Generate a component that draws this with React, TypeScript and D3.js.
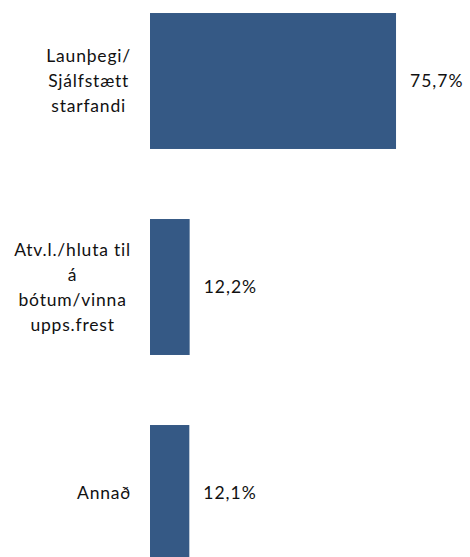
import React, { useEffect, useRef } from 'react';
import * as d3 from 'd3';

// categories, one line per wrapped row of the label
const categories = [
  'Launþegi/\nSjálfstætt\nstarfandi',
  'Atv.l./hluta til\ná\nbótum/vinna\nupps.frest',
  'Annað',
];
const values = [75.7, 12.2, 12.1];
const xDomain = [0, 100];

const width = 470;
const height = 557;
const barColor = '#355985';
const font = 'Lato, "Open Sans", sans-serif';

const App = () => {
  const svgRef = useRef<SVGSVGElement>(null);

  useEffect(() => {
    const svg = d3.select(svgRef.current);
    svg.selectAll('*').remove();

    const x = d3.scaleLinear().domain(xDomain).range([150, 475]);
    const y = d3
      .scaleBand<string>()
      .domain(categories)
      .range([-22, 596])
      .paddingInner(0.34)
      .paddingOuter(0.17);

    const data = categories.map((c, i) => ({ cat: c, value: values[i] }));

    svg
      .selectAll('.bar')
      .data(data)
      .join('rect')
      .attr('class', 'bar')
      .attr('x', x(0))
      .attr('y', (d) => y(d.cat)!)
      .attr('width', (d) => x(d.value) - x(0))
      .attr('height', y.bandwidth())
      .attr('fill', barColor);

    // value labels
    svg
      .selectAll('.val')
      .data(data)
      .join('text')
      .attr('class', 'val')
      .attr('x', (d) => x(d.value) + 14)
      .attr('y', (d) => y(d.cat)! + y.bandwidth() / 2)
      .attr('dy', '0.35em')
      .style('font-family', font)
      .style('font-size', '17.5px')
      .style('letter-spacing', '1px')
      .attr('fill', '#111')
      .text((d) => d.value.toFixed(1).replace('.', ',') + '%');

    // category labels, block right-aligned to the axis, lines centred
    const lineH = 25;
    data.forEach((d) => {
      const lines = d.cat.split('\n');
      const g = svg.append('g');
      const cy = y(d.cat)! + y.bandwidth() / 2;
      const texts = g
        .selectAll('text')
        .data(lines)
        .join('text')
        .attr('y', (_, i) => cy + (i - (lines.length - 1) / 2) * lineH)
        .attr('dy', '0.35em')
        .attr('text-anchor', 'middle')
        .style('font-family', font)
        .style('font-size', '17.5px')
        .style('letter-spacing', '0.8px')
        .attr('fill', '#111')
        .text((l) => l);
      let maxW = 0;
      texts.each(function () {
        maxW = Math.max(maxW, (this as SVGTextElement).getComputedTextLength());
      });
      texts.attr('x', 131 - maxW / 2);
    });
  }, []);

  return (
    <svg
      ref={svgRef}
      width={width}
      height={height}
      style={{ position: 'absolute', left: 0, top: 0, background: '#fff' }}
    />
  );
};

export default App;
